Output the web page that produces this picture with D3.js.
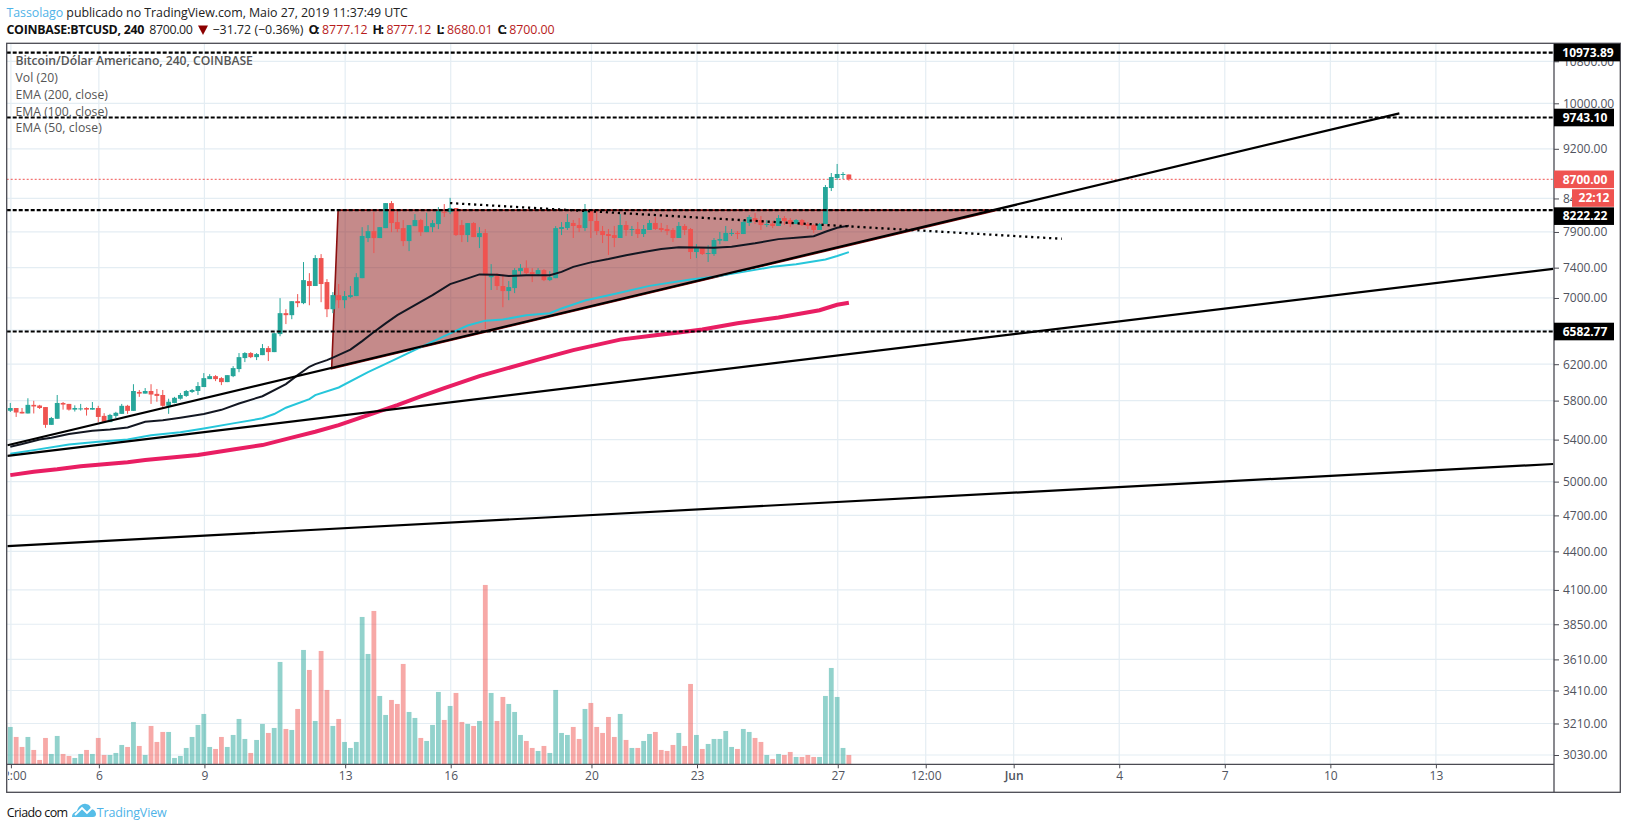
<!DOCTYPE html>
<html><head><meta charset="utf-8">
<script src="https://cdn.jsdelivr.net/npm/d3@7"></script>
<style>
html,body{margin:0;padding:0;background:#fff}
svg{display:block}
text{font-family:"Open Sans",sans-serif}
</style></head><body>
<svg id="c" width="1627" height="829"></svg>
<script>
const opens=[5693,5722,5682,5665,5755,5748,5732,5548,5610,5775,
5765,5705,5710,5722,5705,5722,5640,5576,5640,5661,
5745,5692,5893,5875,5903,5872,5860,5745,5775,5820,
5850,5893,5903,5946,6033,6066,6044,6000,6066,6145,
6270,6328,6281,6304,6386,6339,6552,6808,6783,6959,
6934,7220,7155,7531,7207,6857,7037,6972,7012,7024,
7259,7812,7912,7812,7956,8329,8044,7956,7769,7985,
8074,7898,7970,8015,8198,8193,8254,8000,7855,8030,
7826,7884,7272,7286,7155,7089,7128,7353,7394,7340,
7313,7367,7233,7259,7943,7957,8031,8001,7957,8209,
8060,7913,7870,7855,7813,8001,7929,7943,7870,7929,
8031,7957,7943,7929,7813,7987,7943,7615,7670,7595,
7587,7775,7769,7870,7886,7870,8031,8104,8075,8001,
8022,7987,8104,8075,8016,8075,8016,8001,7929,8016,
8562,8721,8775,8777.12];
const highs=[5775,5722,5722,5825,5798,5755,5732,5629,5860,5785,
5765,5750,5765,5730,5785,5745,5668,5661,5682,5765,
5755,5977,5914,5935,5977,5925,5914,5820,5840,5882,
5914,5925,6000,6100,6088,6077,6055,6077,6178,6328,
6339,6339,6328,6433,6409,6570,6998,6857,6959,7050,
7476,7326,7572,7586,7246,7076,7181,7089,7155,7326,
7970,8000,8193,7970,8329,8360,8223,8074,8000,8163,
8090,8183,8074,8268,8314,8410,8254,8074,8030,8044,
7970,7942,7448,7326,7313,7220,7394,7448,7500,7394,
7394,7380,7353,7985,8045,8164,8075,8104,8315,8209,
8209,7987,7943,7987,8164,8060,7987,8045,8001,8075,
8119,8031,8001,7957,8045,8016,7957,7727,7670,7710,
7813,7899,7987,7943,7913,8075,8148,8178,8134,8075,
8060,8148,8134,8104,8089,8089,8045,8016,8031,8609,
8801,8948,8816,8777.12];
const lows=[5680,5629,5665,5665,5665,5712,5518,5548,5610,5705,
5695,5685,5695,5643,5705,5576,5576,5576,5618,5661,
5661,5692,5840,5875,5765,5788,5715,5661,5772,5810,
5840,5882,5860,5946,6033,6011,5967,6000,6055,6110,
6224,6270,6247,6304,6236,6339,6526,6673,6733,6883,
6921,6907,7155,6946,6759,6808,6870,6870,6998,7024,
7259,7755,7600,7812,7956,7898,7898,7698,7628,7985,
7842,7898,7898,7942,8120,8163,7842,7755,7755,7826,
7670,6612,7103,7103,6883,6972,7063,7299,7313,7207,
7286,7220,7220,7259,7855,7929,7813,7899,7913,7813,
7855,7741,7574,7684,7813,7842,7842,7813,7827,7929,
7929,7899,7855,7756,7813,7855,7518,7531,7574,7477,
7560,7723,7769,7842,7799,7870,7987,8016,7929,7971,
7957,7987,8001,7971,8016,7987,7943,7886,7929,8016,
8515,8689,8705,8680.01];
const closes=[5722,5675,5665,5755,5738,5722,5548,5618,5775,5758,
5705,5722,5718,5705,5722,5629,5579,5650,5672,5745,
5692,5903,5875,5903,5865,5850,5745,5788,5830,5860,
5903,5914,5957,6044,6066,6033,6000,6077,6156,6281,
6328,6281,6316,6386,6339,6562,6808,6783,6959,6934,
7233,7155,7531,7181,6857,7037,6972,7024,7037,7272,
7842,7912,7812,7970,8329,8030,7942,7769,8000,8074,
7898,7985,8030,8208,8185,8254,7855,7855,8030,7826,
7884,7299,7299,7155,7089,7141,7367,7394,7326,7313,
7367,7233,7272,7956,7971,8045,7987,7957,8209,8060,
7913,7855,7842,7813,8001,7929,7943,7870,7943,8031,
7943,7929,7913,7813,7987,7929,7615,7670,7587,7601,
7784,7799,7886,7886,7870,8045,8119,8060,8001,8016,
7987,8104,8060,8016,8075,8001,7987,7929,8016,8578,
8736,8785,8785,8700];
const volumes=[112,82,52,82,43,13,79,31,85,31,25,19,31,43,31,79,28,28,34,58,
52,127,55,28,115,67,97,97,19,25,49,82,118,151,52,46,82,52,88,136,
76,34,73,121,94,109,307,106,103,166,343,283,130,340,223,115,136,67,49,67,
442,331,460,205,148,193,181,301,157,139,79,70,118,217,133,175,214,127,121,115,
130,538,214,130,202,181,157,88,70,49,40,55,34,223,94,88,112,76,166,184,
112,94,142,82,151,73,49,49,70,91,97,43,40,58,94,55,241,88,46,61,
76,76,100,52,46,106,97,79,67,28,16,31,28,37,22,22,28,22,22,205,
289,202,49,28];

const ema50Idx=[0,2,5,7,10,14,17,20,23,26,29,33,36,39,43,47,49,51,52,54,55,58,60,62,64,66,69,72,75,78,80,83,85,88,92,94,96,99,102,105,108,111,114,120,123,127,131,135,137,139,141,143];
const ema50Val=[5329,5356,5402,5418,5455,5488,5502,5522,5580,5594,5621,5659,5703,5770,5847,5978,6077,6171,6201,6247,6276,6368,6468,6576,6682,6784,6909,7037,7181,7256,7309,7304,7286,7296,7297,7343,7411,7472,7518,7570,7614,7657,7681,7675,7690,7738,7797,7825,7839,7903,7960,7992];
const ema100Idx=[0,4,10,15,20,24,29,33,38,43,45,47,51,52,56,61,65,70,74,78,81,84,88,92,94,98,103,109,116,120,125,130,134,139,141,143];
const ema100Val=[5262,5297,5351,5379,5402,5443,5473,5511,5563,5615,5659,5725,5816,5859,5941,6111,6235,6397,6527,6655,6715,6728,6783,6808,6867,6968,7051,7157,7242,7276,7343,7411,7445,7512,7560,7614];
const ema200Idx=[0,4,8,12,20,23,32,38,43,48,52,56,62,66,70,74,80,90,96,104,110,114,118,124,131,138,141,143];
const ema200Val=[5060,5091,5114,5143,5180,5201,5249,5304,5346,5420,5478,5546,5669,5753,5845,5935,6066,6253,6362,6486,6539,6570,6606,6683,6755,6845,6913,6940];

const priceTicks=[10800,10000,9200,8400,7900,7400,7000,6600,6200,5800,5400,5000,4700,4400,4100,3850,3610,3410,3210,3030];
const timeTickIdx=[0,15,33,57,75,99,117,141,156,171,189,207,225,243];
const timeTickLabels=["12:00","6","9","13","16","20","23","27","12:00","Jun","4","7","10","13"];
const levelPrices=[10973.89,9743.10,8222.22,6582.77];
const trendA=[[-0.48,5345],[236.87,9818]];
const trendB=[[-0.48,5241],[263.1,7384]];
const trendC=[[-0.48,4443],[263.1,5164]];
const dottedTrend=[[75,8329],[179.3,7802]];
const triangle=[[55.9,8222.22],[168.3,8222.22],[54.8,6148]];
const legendLabels=["Bitcoin/Dólar Americano, 240, COINBASE","Vol (20)","EMA (200, close)","EMA (100, close)","EMA (50, close)"];
const legendWidths=[237.5,42.5,92.5,92.5,86.4];
const lastPrice=8700, countdown="22:12";

const W=1627,L=6.7,T=43.3,R=1554,B=764.3,FR=1620.3,FB=792.3;
const up="#26a69a",down="#ef5350",gridC="#e4edf3",frameC="#4a4a52",axisTxt="#50535e";
const svg=d3.select("#c");
const x=d3.scaleLinear().domain([0,243]).range([10.3,1435.3]);
const y=d3.scaleLog().domain([10000,3030]).range([103.3,755]);
const v=d3.scaleLinear().domain([0,540]).range([B,B-180]);
const idx=d3.range(opens.length);

svg.append("defs").append("clipPath").attr("id","plot").append("rect").attr("x",L).attr("y",T).attr("width",R-L).attr("height",B-T);
svg.select("defs").append("clipPath").attr("id","tcl").append("rect").attr("x",8).attr("y",B).attr("width",R-8).attr("height",FB-B);

const plot=svg.append("g").attr("clip-path","url(#plot)");
// grid
plot.append("g").selectAll("line").data(priceTicks).join("line")
 .attr("x1",L).attr("x2",R).attr("y1",d=>y(d)).attr("y2",d=>y(d)).attr("stroke",gridC).attr("stroke-width",1.2);
plot.append("g").selectAll("line").data(timeTickIdx).join("line")
 .attr("x1",d=>x(d)+.6).attr("x2",d=>x(d)+.6).attr("y1",T).attr("y2",B).attr("stroke",gridC).attr("stroke-width",1.2);
// volume
plot.append("g").selectAll("rect").data(idx).join("rect")
 .attr("x",i=>x(i)-2.4).attr("width",4.8).attr("y",i=>v(volumes[i])).attr("height",i=>B-v(volumes[i]))
 .attr("fill",i=>closes[i]>=opens[i]?up:down).attr("opacity",.5);
// last price line
plot.append("line").attr("x1",L).attr("x2",R).attr("y1",y(lastPrice)).attr("y2",y(lastPrice))
 .attr("stroke",down).attr("stroke-width",1).attr("stroke-dasharray","2 2");
// triangle
plot.append("path").attr("d",d3.line().x(d=>x(d[0])).y(d=>y(d[1]))(triangle)+"Z")
 .attr("fill","#8b1515").attr("fill-opacity",.5).attr("stroke","#8b0f0f").attr("stroke-width",1.6);
// candles
const cg=plot.append("g");
cg.selectAll("line").data(idx).join("line")
 .attr("x1",i=>x(i)).attr("x2",i=>x(i)).attr("y1",i=>y(highs[i])).attr("y2",i=>y(lows[i]))
 .attr("stroke",i=>closes[i]>=opens[i]?up:down).attr("stroke-width",1);
cg.selectAll("rect").data(idx).join("rect")
 .attr("x",i=>x(i)-2.4).attr("width",4.8)
 .attr("y",i=>y(Math.max(opens[i],closes[i])))
 .attr("height",i=>Math.max(1,Math.abs(y(opens[i])-y(closes[i]))))
 .attr("fill",i=>closes[i]>=opens[i]?up:down);
// EMAs
const ln=d3.line().x(d=>x(d[0])).y(d=>y(d[1]));
const zipS=(a,b)=>a.map((d,i)=>[d,b[i]]);
plot.append("path").attr("d",ln(zipS(ema200Idx,ema200Val))).attr("fill","none").attr("stroke","#e91e63").attr("stroke-width",4);
plot.append("path").attr("d",ln(zipS(ema100Idx,ema100Val))).attr("fill","none").attr("stroke","#26c6da").attr("stroke-width",2);
plot.append("path").attr("d",ln(zipS(ema50Idx,ema50Val))).attr("fill","none").attr("stroke","#131722").attr("stroke-width",2);
// trend lines
[trendA,trendB,trendC].forEach(t=>plot.append("path").attr("d",ln(t)).attr("fill","none").attr("stroke","#000").attr("stroke-width",2.2));
plot.append("path").attr("d",ln(dottedTrend)).attr("fill","none").attr("stroke","#000").attr("stroke-width",2.3).attr("stroke-dasharray","2.2 3.8");
// levels
plot.append("g").selectAll("line").data(levelPrices).join("line")
 .attr("x1",L).attr("x2",R).attr("y1",d=>y(d)).attr("y2",d=>y(d)).attr("stroke","#000").attr("stroke-width",2.2).attr("stroke-dasharray","4 2");

// axes
const ya=svg.append("g").attr("transform",`translate(${R},0)`).call(d3.axisRight(y).tickValues(priceTicks).tickFormat(d3.format(".2f")).tickSize(5).tickPadding(4));
ya.select(".domain").remove();
ya.selectAll("line").attr("stroke",frameC);
ya.selectAll("text").attr("fill",axisTxt).style("font-size","12px").style("font-family",'"Open Sans",sans-serif');
const xa=svg.append("g").attr("clip-path","url(#tcl)").append("g").attr("transform",`translate(0.6,${B})`)
 .call(d3.axisBottom(x).tickValues(timeTickIdx).tickFormat((d,i)=>timeTickLabels[i]).tickSize(4).tickPadding(3));
xa.select(".domain").remove();
xa.selectAll("line").attr("stroke",frameC);
xa.selectAll("text").attr("fill",axisTxt).style("font-size","12px").style("font-family",'"Open Sans",sans-serif');
xa.selectAll("text").filter(d=>d===171).style("font-weight","600");

// frame
const fr=svg.append("g").attr("stroke",frameC).attr("stroke-width",1.3);
fr.append("rect").attr("x",L).attr("y",T).attr("width",FR-L).attr("height",FB-T).attr("fill","none");
fr.append("line").attr("x1",R).attr("x2",R).attr("y1",T).attr("y2",FB);
fr.append("line").attr("x1",L).attr("x2",R).attr("y1",B).attr("y2",B);

// price labels
const labelShift={8222.22:6};
function tag(yy,txt,fill,x0,x1){
 svg.append("rect").attr("x",x0).attr("y",yy-8.8).attr("width",x1-x0).attr("height",17.6).attr("fill",fill);
 svg.append("text").attr("x",(x0+x1)/2+1).attr("y",yy).attr("dy","0.36em").attr("text-anchor","middle")
  .attr("fill","#fff").style("font-weight","700").style("font-size","12px").text(txt);
}
tag(y(lastPrice),"8700.00",down,R,1614);
tag(198,countdown,down,1572,1614);
levelPrices.forEach(p=>tag(y(p)+(labelShift[p]||0),d3.format(".2f")(p),"#000",R,p>10000?1620:1614));
svg.append("g").selectAll("line").data(levelPrices).join("line").attr("x1",R).attr("x2",R+5).attr("y1",d=>y(d)).attr("y2",d=>y(d)).attr("stroke","#000");

// legend
svg.append("g").selectAll("text").data(legendLabels).join("text")
 .attr("x",15.4).attr("y",(d,i)=>61+i*16.75).attr("dy","0.36em").attr("fill","#555")
 .attr("textLength",(d,i)=>legendWidths[i]).attr("lengthAdjust","spacing")
 .style("font-size","12.2px").style("font-weight",(d,i)=>i?"400":"600").text(d=>d);

// header
const t1=svg.append("text").attr("x",6.4).attr("y",12.7).attr("dy","0.36em").style("font-size","12.4px").attr("textLength",401.5).attr("lengthAdjust","spacing");
t1.append("tspan").text("Tassolago").attr("fill","#4fb3e8");
t1.append("tspan").text(" publicado no TradingView.com, Maio 27, 2019 11:37:49 UTC").attr("fill","#222");
const red="#b71c1c";
const h2=[["COINBASE:BTCUSD, 240","#111","700",6.4,138],["8700.00","#222","400",149.3,43.6],["−31.72 (−0.36%)","#222","400",212.5,91],
 ["O:","#111","700",308.6,11],["8777.12",red,"400",322,45.7],["H:","#111","700",372.5,11.5],["8777.12",red,"400",386.4,45],
 ["L:","#111","700",436.4,8.2],["8680.01",red,"400",447,45.7],["C:","#111","700",497.5,9.6],["8700.00",red,"400",509.3,45.4]];
h2.forEach(p=>svg.append("text").attr("x",p[3]).attr("y",29.7).attr("dy","0.36em").attr("fill",p[1])
 .style("font-size","12.4px").style("font-weight",p[2]).attr("textLength",p[4]).attr("lengthAdjust","spacing").text(p[0]));
svg.append("path").attr("d","M198 25.5H208L203 35Z").attr("fill","#8b0000");

// footer
svg.append("text").attr("x",6.7).attr("y",812).attr("dy","0.36em").attr("fill","#111").style("font-size","12.5px").attr("textLength",61.5).text("Criado com");
svg.append("path").attr("d","M72 817 C72 813 75 812 77 811 C78 806 83 803 86 804 C89 804 91 807 91 809 C94 809 96 812 96 814 C96 816 95 817 93 817 Z").attr("fill","#56bde8");
svg.append("path").attr("d","M75 815 L82 808 L87 813 L93 807").attr("fill","none").attr("stroke","#fff").attr("stroke-width",1.8);
svg.append("text").attr("x",96.7).attr("y",812).attr("dy","0.36em").attr("fill","#4fb3e8").style("font-size","12.5px").attr("textLength",70).text("TradingView");
</script>
</body></html>
